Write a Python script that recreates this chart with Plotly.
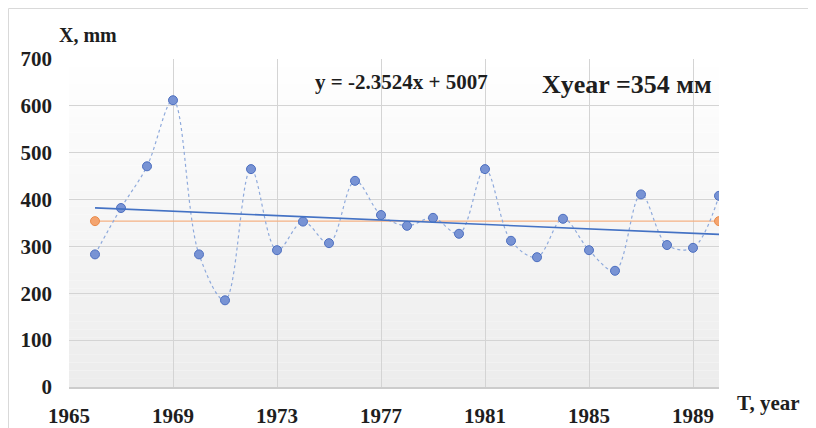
"""
Annual precipitation X (mm), 1966-1990, with linear trend and long-term mean.
"""

import plotly.graph_objects as go

# --- data ---
years = list(range(1966, 1991))
precip_mm = [
    283, 382, 471, 612, 283, 185, 465, 292, 353, 307,
    440, 367, 344, 361, 327, 465, 312, 277, 359, 292,
    248, 411, 303, 297, 408,
]
trend_years = [1966, 1990]
trend_mm = [382.2, 325.7]
mean_years = [1966, 1990]
mean_mm = [354, 354]

x_ticks = [1965, 1969, 1973, 1977, 1981, 1985, 1989]
y_ticks = [0, 100, 200, 300, 400, 500, 600, 700]

SERIF = "Liberation Serif, Times New Roman, serif"
GRID = "#d4d4d4"
TEXT = "#1e1e1e"


def _gradient_bands(n=40, top=255, bottom=236):
    """Horizontal bands faking the white-to-grey plot fill of the original."""
    bands = []
    for i in range(n):
        c = round(top + (bottom - top) * (i + 0.5) / n)
        bands.append(dict(
            type="rect", xref="paper", yref="paper", layer="below",
            x0=0, x1=1, y0=1 - (i + 1) / n, y1=1 - i / n,
            fillcolor=f"rgb({c},{c},{c})", line=dict(width=0),
        ))
    return bands


fig = go.Figure()

fig.add_trace(go.Scatter(
    x=mean_years, y=mean_mm, mode="lines+markers",
    line=dict(color="#f4b183", width=1.2),
    marker=dict(size=9, color="#f4a46f", line=dict(color="#e98a4a", width=1)),
    showlegend=False, hoverinfo="skip",
))
fig.add_trace(go.Scatter(
    x=years, y=precip_mm, mode="lines+markers",
    line=dict(color="#8faadc", width=1.2, dash="dot", shape="spline", smoothing=1.0),
    marker=dict(size=9, color="#7893d4", line=dict(color="#4d6fc0", width=1)),
    showlegend=False,
))
fig.add_trace(go.Scatter(
    x=trend_years, y=trend_mm, mode="lines",
    line=dict(color="#4472c4", width=1.6),
    showlegend=False, hoverinfo="skip",
))

# outer chart frame (only its top and left edges fall inside the picture)
border = dict(
    type="rect", xref="paper", yref="paper",
    x0=-0.0931, x1=1.3, y0=-0.3, y1=1.154,
    line=dict(color="#d9d9d9", width=1), fillcolor="rgba(0,0,0,0)",
    layer="below",
)

# the page body adds an 8px offset, so margins are shifted by that amount
fig.update_layout(
    width=816, height=428,
    margin=dict(l=61, r=105, t=51, b=49),
    paper_bgcolor="white",
    plot_bgcolor="rgba(0,0,0,0)",
    font=dict(family=SERIF, color=TEXT),
    shapes=[border] + _gradient_bands(),
    annotations=[
        dict(text="X, mm", xref="paper", yref="paper", x=-0.018, y=1.073,
             showarrow=False, xanchor="left", yanchor="middle",
             font=dict(size=20, family=SERIF, weight="bold", color=TEXT)),
        dict(text="T, year", xref="paper", yref="paper", x=1.025, y=-0.049,
             showarrow=False, xanchor="left", yanchor="middle",
             font=dict(size=21, family=SERIF, weight="bold", color=TEXT)),
        dict(text="y = -2.3524x + 5007", xref="paper", yref="paper", x=0.512, y=0.93,
             showarrow=False, xanchor="center", yanchor="middle",
             font=dict(size=21, family=SERIF, weight="bold", color=TEXT)),
        dict(text="Xyear =354 мм", xref="paper", yref="paper", x=0.859, y=0.921,
             showarrow=False, xanchor="center", yanchor="middle",
             font=dict(size=26, family=SERIF, weight="bold", color=TEXT)),
    ],
)

fig.update_xaxes(
    range=[1965, 1990], tickvals=x_ticks, ticks="",
    showgrid=True, gridcolor=GRID, gridwidth=1.4,
    showline=True, linecolor="#cccccc", linewidth=1.5,
    zeroline=False, ticklabelstandoff=9, automargin=False,
    tickfont=dict(size=21, family=SERIF, weight="bold", color=TEXT),
)
fig.update_yaxes(
    range=[0, 700], tickvals=y_ticks, ticks="",
    showgrid=True, gridcolor=GRID, gridwidth=1.4,
    showline=False, zeroline=False, ticklabelstandoff=16, automargin=False,
    tickfont=dict(size=21, family=SERIF, weight="bold", color=TEXT),
)

fig.write_html("out.html")
